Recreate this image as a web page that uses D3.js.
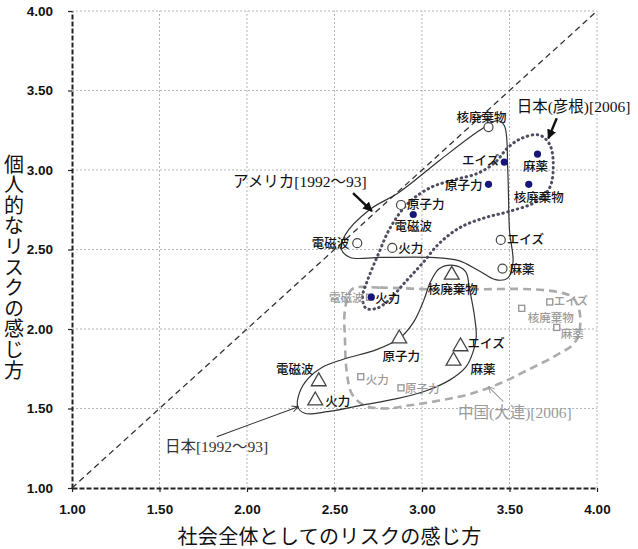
<!DOCTYPE html>
<html>
<head>
<meta charset="utf-8">
<script src="https://cdn.jsdelivr.net/npm/d3@7"></script>
<style>
body { margin: 0; background: #fff; }
</style>
</head>
<body>
<div id="chart"></div>
<script>
// リスク項目（各グループ共通の並び）
var risks = ["核廃棄物", "原子力", "電磁波", "火力", "エイズ", "麻薬"];

// 社会全体としてのリスク (x) / 個人的なリスク (y)
var usSociety = [3.38, 2.88, 2.63, 2.83, 3.45, 3.46];
var usPersonal = [3.27, 2.78, 2.54, 2.51, 2.56, 2.38];
var hikoneSociety = [3.61, 3.38, 2.95, 2.71, 3.47, 3.66];
var hikonePersonal = [2.91, 2.91, 2.72, 2.20, 3.05, 3.10];
var japanSociety = [3.17, 2.87, 2.41, 2.39, 3.22, 3.18];
var japanPersonal = [2.34, 1.94, 1.67, 1.55, 1.89, 1.80];
var chinaSociety = [3.57, 2.88, 2.70, 2.65, 3.73, 3.77];
var chinaPersonal = [2.13, 1.63, 2.20, 1.70, 2.17, 2.01];

var tickValues = [1.0, 1.5, 2.0, 2.5, 3.0, 3.5, 4.0];

// 手書きの囲み線（データ座標）
var usOutline = [[3.43, 3.31], [3.47, 3.28], [3.49, 3.0], [3.50, 2.62], [3.52, 2.42], [3.49, 2.32],
    [3.42, 2.31], [3.32, 2.37], [3.21, 2.43], [3.05, 2.45], [2.76, 2.45], [2.59, 2.45], [2.54, 2.50],
    [2.56, 2.59], [2.70, 2.75], [2.87, 2.86], [3.10, 3.06], [3.33, 3.25]];
var hikoneOutline = [[2.68, 2.13], [2.66, 2.20], [2.69, 2.31], [2.75, 2.47], [2.82, 2.64], [2.92, 2.79],
    [3.05, 2.89], [3.19, 2.94], [3.32, 2.98], [3.42, 3.05], [3.49, 3.14], [3.57, 3.20], [3.67, 3.22],
    [3.73, 3.16], [3.75, 3.03], [3.73, 2.89], [3.65, 2.80], [3.50, 2.74], [3.36, 2.70], [3.22, 2.64],
    [3.10, 2.54], [3.00, 2.41], [2.90, 2.29], [2.81, 2.18], [2.74, 2.13]];
var japanOutline = [[3.10, 2.38], [3.18, 2.40], [3.25, 2.36], [3.27, 2.26], [3.30, 2.08], [3.31, 1.95],
    [3.29, 1.85], [3.25, 1.76], [3.16, 1.68], [3.02, 1.61], [2.85, 1.56], [2.65, 1.52], [2.46, 1.48],
    [2.33, 1.47], [2.29, 1.51], [2.30, 1.60], [2.35, 1.69], [2.43, 1.76], [2.55, 1.81], [2.74, 1.87],
    [2.87, 1.94], [2.95, 2.04], [3.01, 2.18], [3.05, 2.30]];
var chinaOutline = [[2.60, 2.25], [2.76, 2.26], [3.05, 2.25], [3.33, 2.25], [3.62, 2.25], [3.79, 2.23],
    [3.86, 2.20], [3.90, 2.11], [3.90, 1.99], [3.87, 1.91], [3.76, 1.83], [3.60, 1.74], [3.45, 1.66],
    [3.27, 1.59], [3.10, 1.55], [2.93, 1.52], [2.79, 1.50], [2.67, 1.52], [2.60, 1.59], [2.57, 1.73],
    [2.56, 1.93], [2.56, 2.12]];

// ラベルの置き方 [dx, dy, anchor]（risks と同じ順）
var usLabelPos = [[-7, -10, "middle"], [6, 0, "start"], [-8, 0, "end"], [6, 1, "start"], [6, 0, "start"], [7, 1, "start"]];
var hikoneLabelPos = [[10, 13, "middle"], [-6, 1, "end"], [0, 12, "middle"], [4, 1, "start"], [-5, -2, "end"], [-2, 12, "middle"]];
var japanLabelPos = [[1, 15, "middle"], [2, 18, "middle"], [-24, -12, "middle"], [10, 1, "start"], [7, -3, "start"], [17, 9, "start"]];
var chinaLabelPos = [[6, 10, "start"], [4, 1, "start"], [-6, 1, "end"], [5, 3, "start"], [4, -1, "start"], [4, 6, "start"]];

// グループ名と矢印
var groupNotes = [
    {text: "アメリカ[1992～93]", at: [1.92, 2.93], from: [2.606, 2.855], to: [2.714, 2.742], color: "#111", heavy: true},
    {text: "日本(彦根)[2006]", at: [3.541, 3.403], from: [3.77, 3.325], to: [3.722, 3.199], color: "#111", heavy: true},
    {text: "日本[1992～93]", at: [1.531, 1.264], from: [1.827, 1.323], to: [2.293, 1.511], color: "#333", heavy: false},
    {text: "中国(大連)[2006]", at: [3.206, 1.474], from: [3.465, 1.543], to: [3.379, 1.637], color: "#9a9a9a", heavy: false}
];

var width = 638;
var height = 549;
var jpFont = "'Noto Sans CJK JP', sans-serif";
var noteFont = "'Liberation Serif', 'Noto Sans CJK JP', serif";
var numFont = "'Liberation Sans', Arial, sans-serif";

var svg = d3.select('#chart')
    .append('svg')
    .attr('width', width)
    .attr('height', height);

var x = d3.scaleLinear().domain([1, 4]).range([72, 597]);
var y = d3.scaleLinear().domain([1, 4]).range([488, 11]);

var defs = svg.append('defs');
defs.append('marker')
    .attr('id', 'headHeavy')
    .attr('viewBox', '0 0 10 10')
    .attr('refX', 9).attr('refY', 5)
    .attr('markerWidth', 4).attr('markerHeight', 4)
    .attr('orient', 'auto')
    .append('path')
    .attr('d', 'M0,0L10,5L0,10z')
    .attr('fill', '#111');
['#333', '#9a9a9a'].forEach(function(c, i) {
    defs.append('marker')
        .attr('id', 'headThin' + i)
        .attr('viewBox', '0 0 10 10')
        .attr('refX', 9).attr('refY', 5)
        .attr('markerWidth', 7).attr('markerHeight', 7)
        .attr('orient', 'auto')
        .append('path')
        .attr('d', 'M1,1L9,5L1,9')
        .attr('fill', 'none')
        .attr('stroke', c)
        .attr('stroke-width', 1.2);
});

// グリッド
svg.append('g')
    .selectAll('line')
    .data(tickValues.slice(1))
    .enter()
    .append('line')
    .attr('x1', d => x(d)).attr('x2', d => x(d))
    .attr('y1', y(1)).attr('y2', y(4))
    .attr('stroke', '#b5b5b5')
    .attr('stroke-dasharray', '2,2');
svg.append('g')
    .selectAll('line')
    .data(tickValues.slice(1))
    .enter()
    .append('line')
    .attr('y1', d => y(d)).attr('y2', d => y(d))
    .attr('x1', x(1)).attr('x2', x(4))
    .attr('stroke', '#b5b5b5')
    .attr('stroke-dasharray', '2,2');

// 軸
var xaxis = d3.axisBottom(x).tickValues(tickValues).tickFormat(d3.format('.2f')).tickSize(4).tickSizeOuter(0).tickPadding(12);
var yaxis = d3.axisLeft(y).tickValues(tickValues).tickFormat(d3.format('.2f')).tickSize(4).tickSizeOuter(0).tickPadding(15);

var gx = svg.append('g').attr('transform', 'translate(0,' + y(1) + ')').call(xaxis);
var gy = svg.append('g').attr('transform', 'translate(' + x(1) + ',0)').call(yaxis);
[gx, gy].forEach(function(g) {
    g.select('.domain').attr('stroke', '#222').attr('stroke-width', 2).attr('stroke-dasharray', '5,2');
    g.selectAll('.tick line').attr('stroke', '#222').attr('stroke-width', 1.2);
    g.selectAll('text')
        .attr('fill', '#111')
        .attr('font-family', numFont)
        .attr('font-weight', 700)
        .attr('font-size', 13.5);
});

// 対角線
svg.append('line')
    .attr('x1', x(1)).attr('y1', y(1))
    .attr('x2', x(4)).attr('y2', y(4))
    .attr('stroke', '#333')
    .attr('stroke-width', 1.3)
    .attr('stroke-dasharray', '6,4');

// 囲み線
var outline = d3.line()
    .x(d => x(d[0]))
    .y(d => y(d[1]))
    .curve(d3.curveCatmullRomClosed.alpha(0.5));

svg.append('path').attr('d', outline(chinaOutline))
    .attr('fill', 'none').attr('stroke', '#ababab').attr('stroke-width', 2.6).attr('stroke-dasharray', '8,5');
svg.append('path').attr('d', outline(japanOutline))
    .attr('fill', 'none').attr('stroke', '#333').attr('stroke-width', 1.2);
svg.append('path').attr('d', outline(usOutline))
    .attr('fill', 'none').attr('stroke', '#333').attr('stroke-width', 1.2);
svg.append('path').attr('d', outline(hikoneOutline))
    .attr('fill', 'none').attr('stroke', '#4d4d62').attr('stroke-width', 3)
    .attr('stroke-linecap', 'round').attr('stroke-dasharray', '0.5,4.5');

function pts(sx, sy) {
    return risks.map(function(r, i) { return {name: r, sx: sx[i], sy: sy[i], i: i}; });
}

// 中国(大連)
svg.append('g').selectAll('rect')
    .data(pts(chinaSociety, chinaPersonal))
    .enter()
    .append('rect')
    .attr('x', d => x(d.sx) - 3).attr('y', d => y(d.sy) - 3)
    .attr('width', 6).attr('height', 6)
    .attr('fill', '#fff').attr('stroke', '#999').attr('stroke-width', 1.4);

// 日本[1992～93]
svg.append('g').selectAll('path')
    .data(pts(japanSociety, japanPersonal))
    .enter()
    .append('path')
    .attr('d', d3.symbol(d3.symbolTriangle).size(95))
    .attr('transform', d => 'translate(' + x(d.sx) + ',' + y(d.sy) + ')')
    .attr('fill', '#fff').attr('stroke', '#444').attr('stroke-width', 1.3);

// アメリカ
svg.append('g').selectAll('circle')
    .data(pts(usSociety, usPersonal))
    .enter()
    .append('circle')
    .attr('cx', d => x(d.sx)).attr('cy', d => y(d.sy))
    .attr('r', 4.5)
    .attr('fill', '#fff').attr('stroke', '#444').attr('stroke-width', 1.2);

// 日本(彦根)
svg.append('g').selectAll('circle')
    .data(pts(hikoneSociety, hikonePersonal))
    .enter()
    .append('circle')
    .attr('cx', d => x(d.sx)).attr('cy', d => y(d.sy))
    .attr('r', 3.6)
    .attr('fill', '#16167a');

// 点のラベル
function drawLabels(data, place, color, size) {
    svg.append('g').selectAll('text')
        .data(data)
        .enter()
        .append('text')
        .attr('x', d => x(d.sx) + place[d.i][0])
        .attr('y', d => y(d.sy) + place[d.i][1])
        .attr('dy', '0.36em')
        .attr('text-anchor', d => place[d.i][2])
        .attr('font-family', jpFont)
        .attr('font-size', size)
        .attr('font-weight', 500)
        .attr('fill', color)
        .text(d => d.name);
}
drawLabels(pts(chinaSociety, chinaPersonal), chinaLabelPos, '#9a9a9a', 11.5);
drawLabels(pts(japanSociety, japanPersonal), japanLabelPos, '#111', 12.5);
drawLabels(pts(usSociety, usPersonal), usLabelPos, '#111', 12.5);
drawLabels(pts(hikoneSociety, hikonePersonal), hikoneLabelPos, '#111', 12.5);

// グループ名と矢印
var thinIndex = 0;
groupNotes.forEach(function(n) {
    svg.append('text')
        .attr('x', x(n.at[0]))
        .attr('y', y(n.at[1]))
        .attr('dy', '0.36em')
        .attr('font-family', noteFont)
        .attr('font-size', 15.5)
        .attr('fill', n.color)
        .text(n.text);
    var head = n.heavy ? 'url(#headHeavy)' : 'url(#headThin' + (thinIndex++) + ')';
    svg.append('line')
        .attr('x1', x(n.from[0])).attr('y1', y(n.from[1]))
        .attr('x2', x(n.to[0])).attr('y2', y(n.to[1]))
        .attr('stroke', n.color)
        .attr('stroke-width', n.heavy ? 2.4 : 1.1)
        .attr('marker-end', head);
});

// 軸タイトル
svg.append('text')
    .attr('x', (x(1) + x(4)) / 2 - 5)
    .attr('y', 544)
    .attr('text-anchor', 'middle')
    .attr('font-family', jpFont)
    .attr('font-size', 20)
    .attr('letter-spacing', 0.3)
    .attr('fill', '#111')
    .text('社会全体としてのリスクの感じ方');

// 縦書きの y 軸タイトル
svg.append('text')
    .attr('x', 14)
    .attr('y', 154)
    .style('writing-mode', 'vertical-rl')
    .style('text-orientation', 'upright')
    .attr('letter-spacing', 0.6)
    .attr('font-family', jpFont)
    .attr('font-size', 20)
    .attr('fill', '#111')
    .text('個人的なリスクの感じ方');
</script>
</body>
</html>
